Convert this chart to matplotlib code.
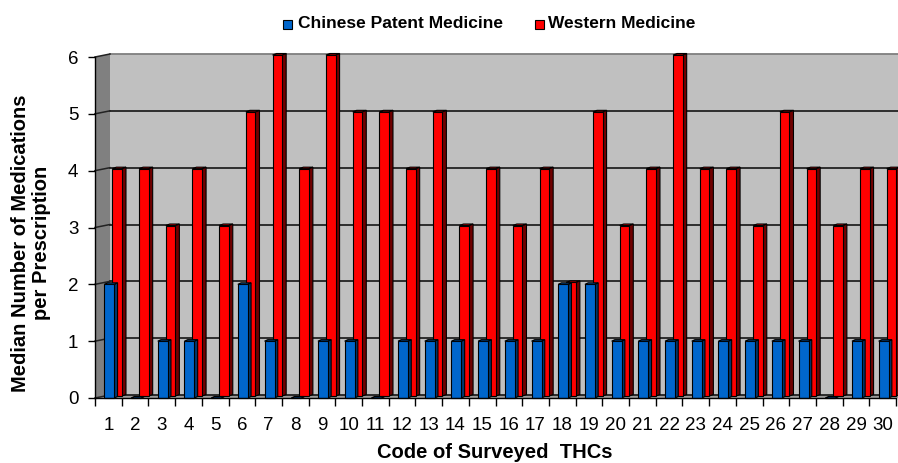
import numpy as np
import matplotlib
matplotlib.use("Agg")
import matplotlib.pyplot as plt
from matplotlib.patches import Polygon, Rectangle

plt.rcParams["font.family"] = ["Liberation Sans", "DejaVu Sans"]

# ── data ────────────────────────────────────────────────────────────────
codes = list(range(1, 31))
chinese_patent = [2, 0, 1, 1, 0, 2, 1, 0, 1, 1, 0, 1, 1, 1, 1,
                  1, 1, 2, 2, 1, 1, 1, 1, 1, 1, 1, 1, 0, 1, 1]
western = [4, 4, 3, 4, 3, 5, 6, 4, 6, 5, 5, 4, 5, 3, 4,
           3, 4, 2, 5, 3, 4, 6, 4, 4, 3, 5, 4, 3, 4, 4]
y_ticks = [0, 1, 2, 3, 4, 5, 6]

# ── figure / axes geometry (pixels -> data) ─────────────────────────────
W, H = 898, 463
fig = plt.figure(figsize=(W / 100, H / 100), dpi=100)
ax_l, ax_r, ax_b, ax_t = 95, 896, 398, 57
ax = fig.add_axes([ax_l / W, 1 - ax_b / H, (ax_r - ax_l) / W, (ax_b - ax_t) / H])
ax.set_xlim(0.5, 30.5)
ax.set_ylim(0, 6)
ax.set_facecolor("white")

px_x = (ax_r - ax_l) / 30.0
px_y = (ax_b - ax_t) / 6.0
def dx(p): return p / px_x
def dy(p): return p / px_y

depth_x, depth_y = dx(15), dy(3)
x_end = 31.2

# ── 3D walls ────────────────────────────────────────────────────────────
back = Polygon([(0.5 + depth_x, depth_y), (x_end, depth_y),
                (x_end, 6 + depth_y), (0.5 + depth_x, 6 + depth_y)],
               closed=True, facecolor="#C0C0C0", edgecolor="none",
               zorder=0, clip_on=False)
side = Polygon([(0.5, 0), (0.5 + depth_x, depth_y),
                (0.5 + depth_x, 6 + depth_y), (0.5, 6)],
               closed=True, facecolor="#808080", edgecolor="none",
               zorder=0, clip_on=False)
floor = Polygon([(0.5, 0), (x_end, 0), (x_end, depth_y), (0.5 + depth_x, depth_y)],
                closed=True, facecolor="#9A9A9A", edgecolor="none",
                zorder=0, clip_on=False)
for p in (back, side, floor):
    ax.add_patch(p)

for k in y_ticks:
    col = "#7F7F7F" if k == 6 else "#222222"
    ax.plot([0.5 + depth_x, x_end], [k + depth_y, k + depth_y], color=col,
            lw=1.3, zorder=1, clip_on=False)
    ax.plot([0.5, 0.5 + depth_x], [k, k + depth_y], color="#222222",
            lw=1.1, zorder=1, clip_on=False)

# ── 3D bars ─────────────────────────────────────────────────────────────
def bar3d(x0, h, w, sw, base, face, dark, z):
    top_dy = dy(1.5)
    front = Rectangle((x0, base), w, h, facecolor=face, edgecolor="black",
                      lw=0.8, zorder=z, clip_on=False)
    sidef = Polygon([(x0 + w, base), (x0 + w + sw, base + top_dy),
                     (x0 + w + sw, base + h + top_dy), (x0 + w, base + h)],
                    closed=True, facecolor=dark, edgecolor="black",
                    lw=0.8, zorder=z, clip_on=False)
    topf = Polygon([(x0, base + h), (x0 + w, base + h),
                    (x0 + w + sw, base + h + top_dy), (x0 + sw, base + h + top_dy)],
                   closed=True, facecolor=face, edgecolor="black",
                   lw=0.8, zorder=z, clip_on=False)
    ax.add_patch(sidef)
    ax.add_patch(front)
    ax.add_patch(topf)

for i, (c, v) in enumerate(zip(codes, western)):
    bar3d(c + 0.15, v, 0.36, 0.15, dy(2), "#FF0000", "#700000", 2 + i * 0.01)
for i, (c, v) in enumerate(zip(codes, chinese_patent)):
    bar3d(c - 0.15, v, 0.375, 0.12, 0, "#0066CC", "#00386E", 3 + i * 0.01)

# ── axes styling ───────────────────────────────────────────────────────
for s in ("top", "right"):
    ax.spines[s].set_visible(False)
for s in ("left", "bottom"):
    ax.spines[s].set_color("black")
    ax.spines[s].set_linewidth(1.0)
    ax.spines[s].set_zorder(5)

ax.set_yticks(y_ticks)
ax.set_yticklabels([str(t) for t in y_ticks], fontsize=13.5)
ax.tick_params(axis="y", direction="out", length=5, width=1, pad=7)

ax.set_xticks(codes)
ax.set_xticklabels([str(c) for c in codes], fontsize=13.5)
ax.set_xticks(np.arange(0.5, 31, 1), minor=True)
ax.tick_params(axis="x", which="major", length=0, pad=14)
ax.tick_params(axis="x", which="minor", direction="out", length=6, width=1)

# ── labels ─────────────────────────────────────────────────────────────
fig.text(495 / W, 1 - 452 / H, "Code of Surveyed  THCs", ha="center", va="center",
         fontsize=14.5, fontweight="bold")
fig.text(31 / W, 1 - 243 / H, "Median Number of Medications\nper Prescription",
         ha="center", va="center", rotation=90, fontsize=14.5,
         fontweight="bold", linespacing=1.1, multialignment="center")

# ── legend ─────────────────────────────────────────────────────────────
for sx, col, tx, lab in [(283, "#0066CC", 298, "Chinese Patent Medicine"),
                         (535, "#FF0000", 548, "Western Medicine")]:
    fig.add_artist(Rectangle((sx / W, 1 - 29 / H), 9 / W, 9 / H,
                             transform=fig.transFigure, facecolor=col,
                             edgecolor="black", lw=0.8))
    fig.text(tx / W, 1 - 23.5 / H, lab, ha="left", va="center",
             fontsize=12.5, fontweight="bold")

fig.savefig("out.png", dpi=100)
